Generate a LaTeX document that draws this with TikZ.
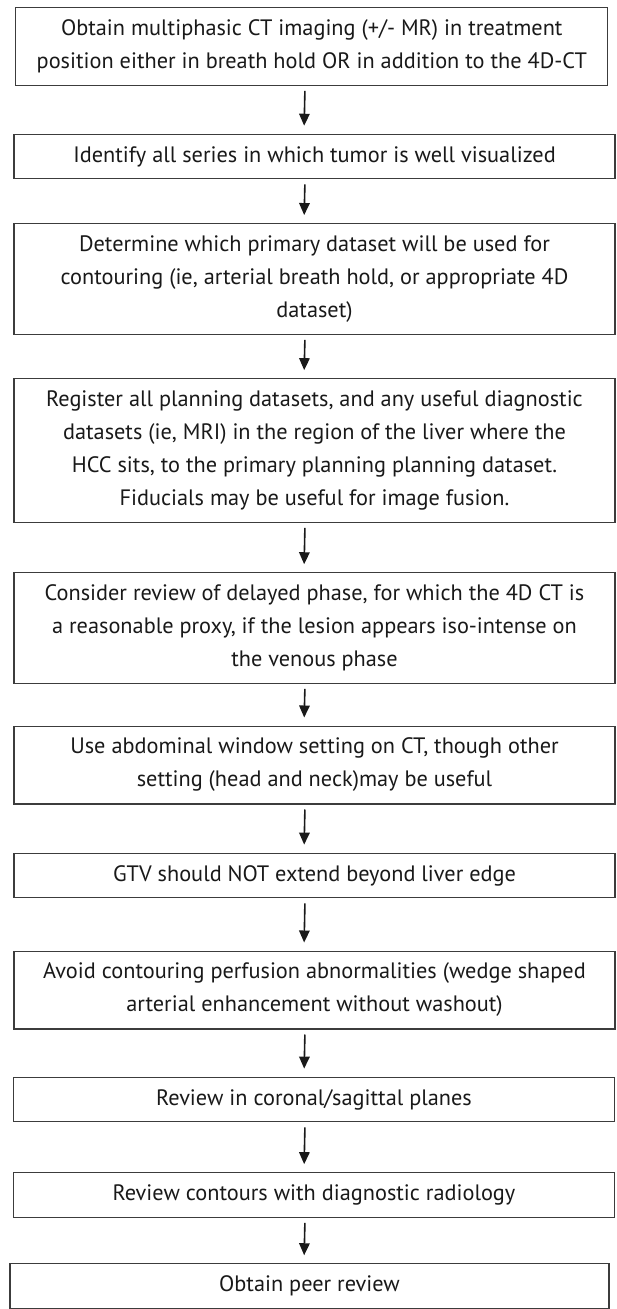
\documentclass[tikz,border=0pt]{standalone}
\usepackage{fontspec}
\setmainfont{PT Sans}
\usetikzlibrary{arrows.meta}
\definecolor{boxline}{RGB}{60,60,60}
\definecolor{steptext}{RGB}{25,25,25}

\begin{document}
\begin{tikzpicture}[x=1pt,y=1pt,>={Triangle[length=12pt,width=10.5pt]},
  stepbox/.style={draw=boxline,line width=1.2pt,minimum width=601pt,inner xsep=8pt,
    inner ysep=12pt,align=center,text=steptext,font=\fontsize{22.3}{33}\selectfont},
  flow/.style={->,line width=1.6pt,draw=steptext,shorten <=5pt,shorten >=8pt}]
  \useasboundingbox (0,0) rectangle (616,-1309);
  % contouring workflow, top to bottom
  \node[stepbox,minimum width=592pt] (imaging) at (311.8,-46.5) {Obtain multiphasic CT imaging (+/- MR) in treatment\\
    position either in breath hold OR in addition to the 4D-CT};
  \node[stepbox] (series) at (314.5,-156.5) {Identify all series in which tumor is well visualized};
  \node[stepbox] (primary) at (314.5,-279) {Determine which primary dataset will be used for\\
    contouring (ie, arterial breath hold, or appropriate 4D\\dataset)};
  \node[stepbox] (register) at (314.5,-450.5) {Register all planning datasets, and any useful diagnostic\\
    datasets (ie, MRI) in the region of the liver where the\\
    HCC sits, to the primary planning planning dataset.\\
    Fiducials may be useful for image fusion.};
  \node[stepbox] (delayed) at (314.5,-628) {Consider review of delayed phase, for which the 4D CT is\\
    a reasonable proxy, if the lesion appears iso-intense on\\the venous phase};
  \node[stepbox] (window) at (314.5,-765) {Use abdominal window setting on CT, though other\\
    setting (head and neck)may be useful};
  \node[stepbox] (edge) at (314.5,-875.5) {GTV should NOT extend beyond liver edge};
  \node[stepbox] (perfusion) at (314.5,-990) {Avoid contouring perfusion abnormalities (wedge shaped\\
    arterial enhancement without washout)};
  \node[stepbox] (planes) at (314,-1099.5) {Review in coronal/sagittal planes};
  \node[stepbox] (radiology) at (314,-1195) {Review contours with diagnostic radiology};
  \node[stepbox,minimum width=599pt] (peer) at (309.5,-1286) {Obtain peer review};

  \foreach \a/\b in {imaging/series,series/primary,primary/register,register/delayed,
    delayed/window,window/edge,edge/perfusion,perfusion/planes,planes/radiology,radiology/peer}
    \draw[flow] (\a.south -| 305,0) -- (\b.north -| 304,0);
\end{tikzpicture}
\end{document}
